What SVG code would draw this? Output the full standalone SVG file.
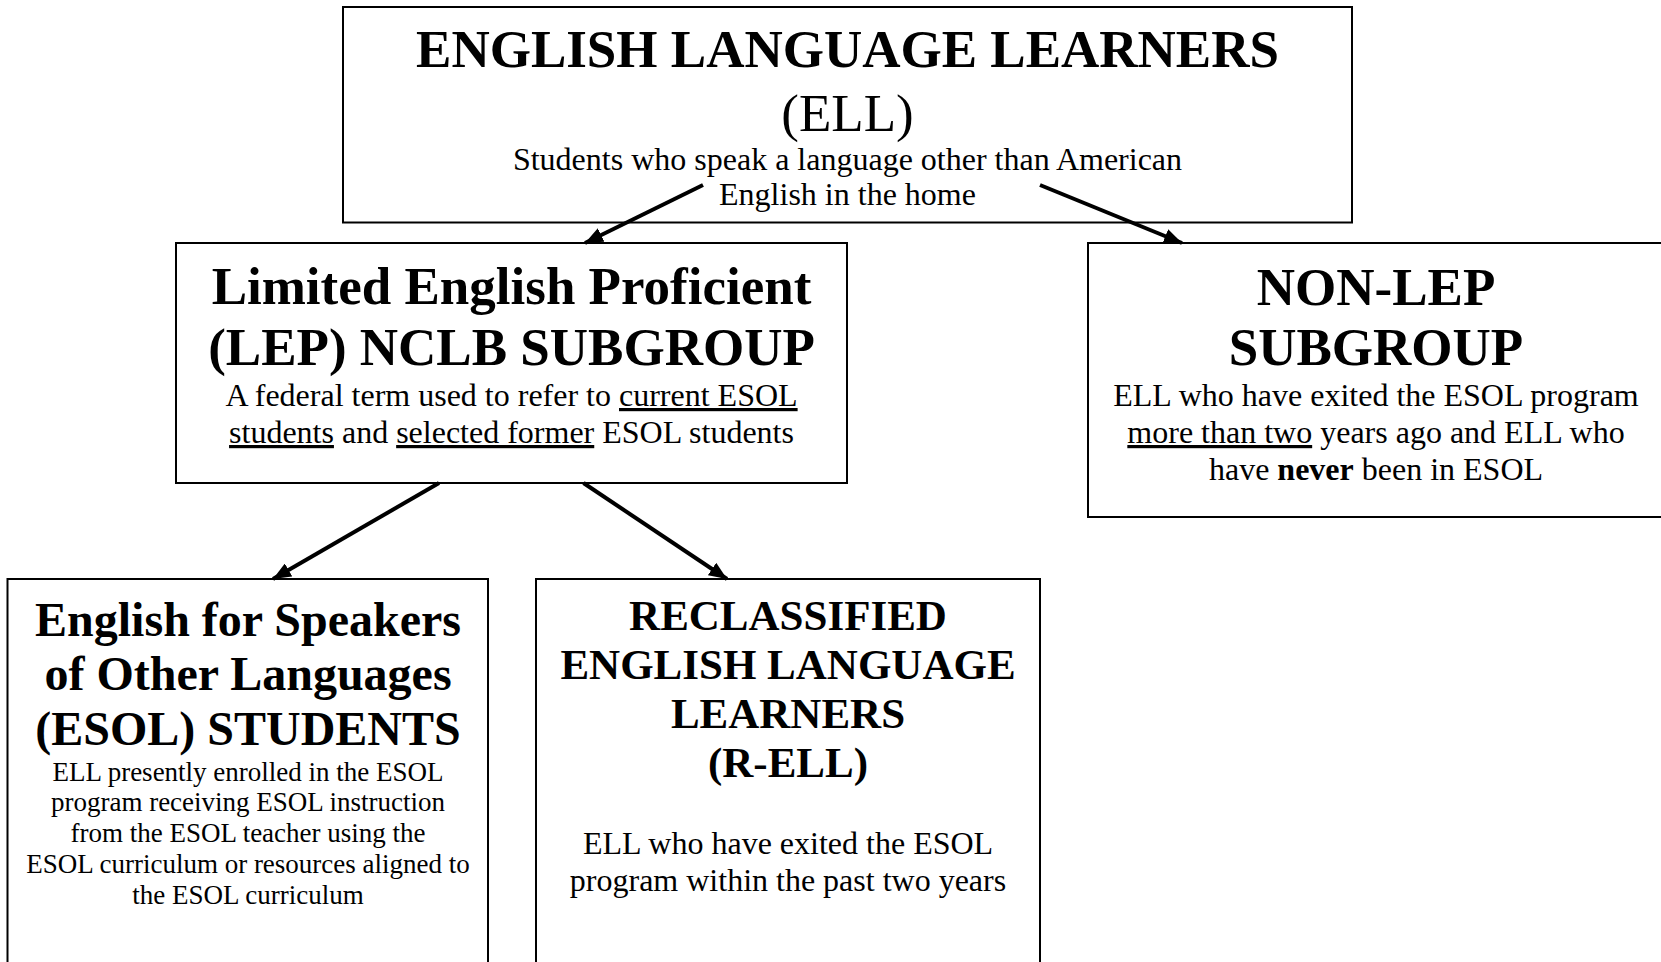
<svg xmlns="http://www.w3.org/2000/svg" width="1661" height="962" viewBox="0 0 1661 962">
  <style>
    .box { fill: #ffffff; stroke: #000000; stroke-width: 2; }
    text { font-family: "Liberation Serif", "Times New Roman", serif; fill: #000000; text-anchor: middle; }
    .t53 { font-size: 53px; font-weight: bold; }
    .r53 { font-size: 53px; }
    .t48 { font-size: 48px; font-weight: bold; }
    .t43 { font-size: 43px; font-weight: bold; }
    .b32 { font-size: 32px; }
    .b27 { font-size: 27px; }
    .u { text-decoration: underline; }
    .bold { font-weight: bold; }
    .link { stroke: #000000; stroke-width: 4; fill: none; }
  </style>
  <defs>
    <marker id="arrow" markerUnits="userSpaceOnUse" markerWidth="19" markerHeight="15" refX="18" refY="7.5" orient="auto">
      <path d="M0,0 L18,7.5 L0,15 Z" fill="#000000"/>
    </marker>
  </defs>

  <rect x="0" y="0" width="1661" height="962" fill="#ffffff"/>

  <!-- Top: English Language Learners -->
  <g id="ell">
    <rect class="box" x="343" y="7" width="1009" height="215.5"/>
    <text class="t53" x="847.5" y="67">ENGLISH LANGUAGE LEARNERS</text>
    <text class="r53" x="847.5" y="131">(ELL)</text>
    <text class="b32" x="847.5" y="170">Students who speak a language other than American</text>
    <text class="b32" x="847.5" y="205">English in the home</text>
  </g>

  <!-- Limited English Proficient subgroup -->
  <g id="lep">
    <rect class="box" x="176" y="243" width="671" height="240"/>
    <text class="t53" x="511.5" y="304">Limited English Proficient</text>
    <text class="t53" x="511.5" y="365">(LEP) NCLB SUBGROUP</text>
    <text class="b32" x="511.5" y="406">A federal term used to refer to <tspan class="u">current ESOL</tspan></text>
    <text class="b32" x="511.5" y="443"><tspan class="u">students</tspan> and <tspan class="u">selected former</tspan> ESOL students</text>
  </g>

  <!-- Non-LEP subgroup -->
  <g id="non-lep">
    <rect class="box" x="1088" y="243" width="580" height="274"/>
    <text class="t53" x="1376" y="305">NON-LEP</text>
    <text class="t53" x="1376" y="365">SUBGROUP</text>
    <text class="b32" x="1376" y="406">ELL who have exited the ESOL program</text>
    <text class="b32" x="1376" y="443"><tspan class="u">more than two</tspan> years ago and ELL who</text>
    <text class="b32" x="1376" y="480">have <tspan class="bold">never</tspan> been in ESOL</text>
  </g>

  <!-- ESOL students -->
  <g id="esol">
    <rect class="box" x="7.5" y="579" width="480.5" height="400"/>
    <text class="t48" x="248" y="636">English for Speakers</text>
    <text class="t48" x="248" y="690">of Other Languages</text>
    <text class="t48" x="248" y="745">(ESOL) STUDENTS</text>
    <text class="b27" x="248" y="781">ELL presently enrolled in the ESOL</text>
    <text class="b27" x="248" y="811">program receiving ESOL instruction</text>
    <text class="b27" x="248" y="842">from the ESOL teacher using the</text>
    <text class="b27" x="248" y="873">ESOL curriculum or resources aligned to</text>
    <text class="b27" x="248" y="904">the ESOL curriculum</text>
  </g>

  <!-- Reclassified ELL -->
  <g id="r-ell">
    <rect class="box" x="536" y="579" width="504" height="400"/>
    <text class="t43" x="788" y="630">RECLASSIFIED</text>
    <text class="t43" x="788" y="679">ENGLISH LANGUAGE</text>
    <text class="t43" x="788" y="728">LEARNERS</text>
    <text class="t43" x="788" y="777">(R-ELL)</text>
    <text class="b32" x="788" y="854">ELL who have exited the ESOL</text>
    <text class="b32" x="788" y="891">program within the past two years</text>
  </g>

  <!-- Connectors -->
  <g id="connectors">
    <line class="link" x1="703" y1="185" x2="585" y2="243" marker-end="url(#arrow)"/>
    <line class="link" x1="1040" y1="185" x2="1182" y2="243" marker-end="url(#arrow)"/>
    <line class="link" x1="439" y1="483" x2="273" y2="579" marker-end="url(#arrow)"/>
    <line class="link" x1="583.5" y1="483" x2="727" y2="579" marker-end="url(#arrow)"/>
  </g>
</svg>
